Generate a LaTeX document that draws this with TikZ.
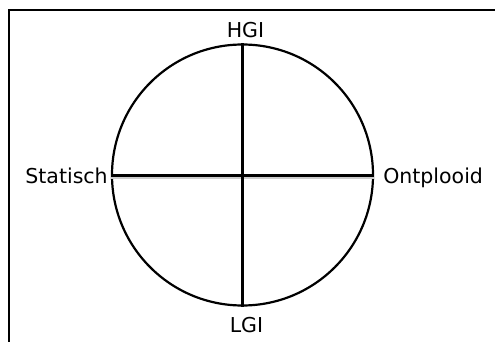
\documentclass[tikz,border=0pt]{standalone}
\usepackage{fontspec}
\setmainfont{DejaVu Sans}
\usetikzlibrary{positioning,calc}

\begin{document}
\begin{tikzpicture}[
  x=1pt,y=-1pt,
  ring/.style={circle,draw=black,line width=2.2pt,minimum size=261pt,inner sep=0pt},
  axis/.style={line width=3pt,black},
  shade/.style={line width=3pt,black!20},
  lbl/.style={font=\fontsize{20.5}{24}\selectfont,inner sep=0pt},
]
\useasboundingbox (0,0) rectangle (495,342);
% frame (only top and left edges fall inside the picture)
\coordinate (fbl) at (9,342);
\coordinate (ftl) at (9,10);
\coordinate (ftr) at (495,10);
\draw[line width=2pt] (fbl) -- (ftl) -- (ftr);

\node[ring] (ring) at (242.5,175) {};

% cross
\draw[shade] ([yshift=-2.8pt]ring.west) -- ([yshift=-2.8pt]ring.east);
\draw[axis] (ring.west) -- (ring.east);
\draw[axis] (ring.north) -- (ring.south);

\node[lbl,anchor=base] (hgi) at ([xshift=3pt,yshift=5.5pt]ring.north) {HGI};
\node[lbl,anchor=base] (lgi) at ([xshift=4pt,yshift=-26pt]ring.south) {LGI};
\node[lbl,anchor=base east] (stat) at ([xshift=-3pt,yshift=-8pt]ring.west) {Statisch};
\node[lbl,anchor=base west] (ontp) at ([xshift=9pt,yshift=-8pt]ring.east) {Ontplooid};
\end{tikzpicture}
\end{document}
